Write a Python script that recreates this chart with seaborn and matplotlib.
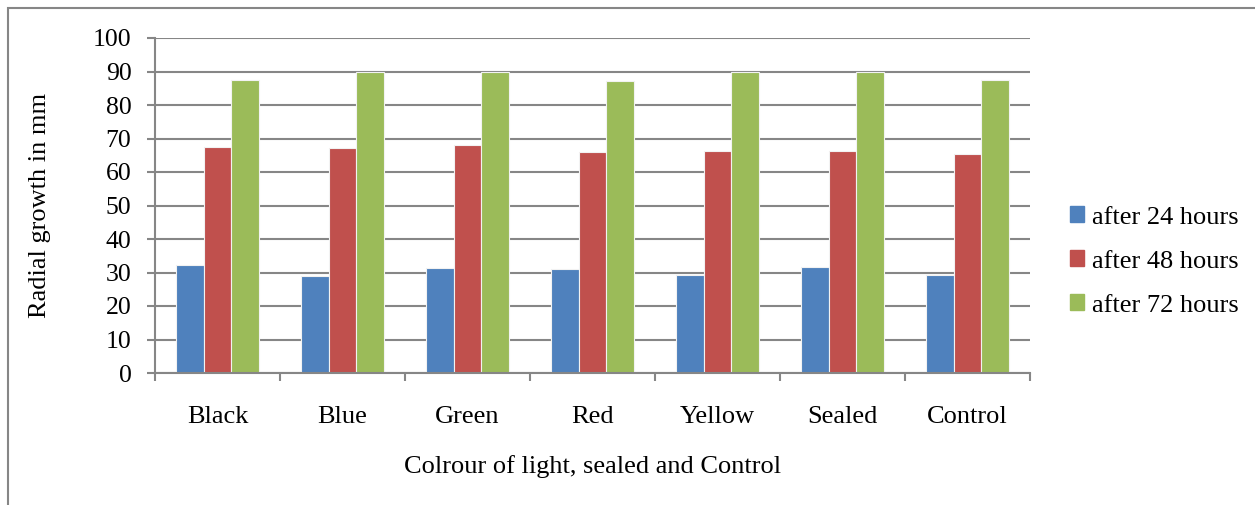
import matplotlib
matplotlib.use("Agg")
import matplotlib.pyplot as plt
import matplotlib.patches as mpatches
import seaborn as sns
import pandas as pd

categories = ["Black", "Blue", "Green", "Red", "Yellow", "Sealed", "Control"]
series_names = ["after 24 hours", "after 48 hours", "after 72 hours"]
after_24 = [32.2, 29.0, 31.2, 30.9, 29.2, 31.5, 29.2]
after_48 = [67.5, 67.2, 68.2, 65.9, 66.3, 66.3, 65.3]
after_72 = [87.5, 90.0, 90.0, 87.2, 90.0, 90.0, 87.6]
colors = ["#4F81BD", "#C0504D", "#9BBB59"]

rows = []
for name, vals in zip(series_names, [after_24, after_48, after_72]):
    for cat, v in zip(categories, vals):
        rows.append({"category": cat, "series": name, "value": v})
df = pd.DataFrame(rows)

sns.set_theme(style="white")
plt.rcParams["font.family"] = ["Liberation Serif", "DejaVu Serif"]
plt.rcParams["text.color"] = "black"
plt.rcParams["xtick.color"] = "black"
plt.rcParams["ytick.color"] = "black"
plt.rcParams["axes.labelcolor"] = "black"

fig = plt.figure(figsize=(12.55, 5.05), dpi=100)
ax = fig.add_axes([155 / 1255, 1 - 373 / 505, (1030 - 155) / 1255, (373 - 38) / 505])

sns.barplot(data=df, x="category", y="value", hue="series", order=categories,
            hue_order=series_names, palette=colors, width=0.66, saturation=1,
            edgecolor="#f2f2f2", linewidth=0.8, ax=ax, legend=True)

grid_color = "#868686"
ax.set_ylim(0, 100)
ax.set_xlim(-0.5, len(categories) - 0.5)
ax.set_yticks(range(0, 101, 10))
ax.yaxis.grid(True, color=grid_color, linewidth=1.5)
ax.set_axisbelow(True)
for side in ["top", "right"]:
    ax.spines[side].set_visible(False)
for side in ["left", "bottom"]:
    ax.spines[side].set_color(grid_color)
    ax.spines[side].set_linewidth(1.5)

ax.tick_params(axis="y", which="major", left=True, length=6, width=1.5,
               color=grid_color, labelcolor="black", labelsize=18.5, pad=11)
ax.tick_params(axis="x", which="major", bottom=False, labelcolor="black",
               labelsize=19, pad=17.5)
# category boundary ticks on the x axis
ax.set_xticks([i - 0.5 for i in range(len(categories) + 1)], minor=True)
ax.tick_params(axis="x", which="minor", bottom=True, length=6, width=1.5,
               color=grid_color)

ax.set_xlabel("Colrour of light, sealed and Control", fontsize=19, labelpad=20)
ax.set_ylabel("Radial growth in mm", fontsize=19, labelpad=30)

handles = [mpatches.Patch(color=c) for c in colors]
ax.legend(handles, series_names, loc="center left", bbox_to_anchor=(1.018, 0.333),
          frameon=False, fontsize=19, handlelength=0.55, handleheight=0.55,
          handletextpad=0.3, labelspacing=0.82)

# outer chart frame
fig.add_artist(mpatches.Rectangle((8 / 1255, -0.1), 1.2, 1 - 8 / 505 + 0.1,
                                  transform=fig.transFigure, fill=False,
                                  edgecolor="#868686", linewidth=1.5))

fig.savefig("out.png", dpi=100)
